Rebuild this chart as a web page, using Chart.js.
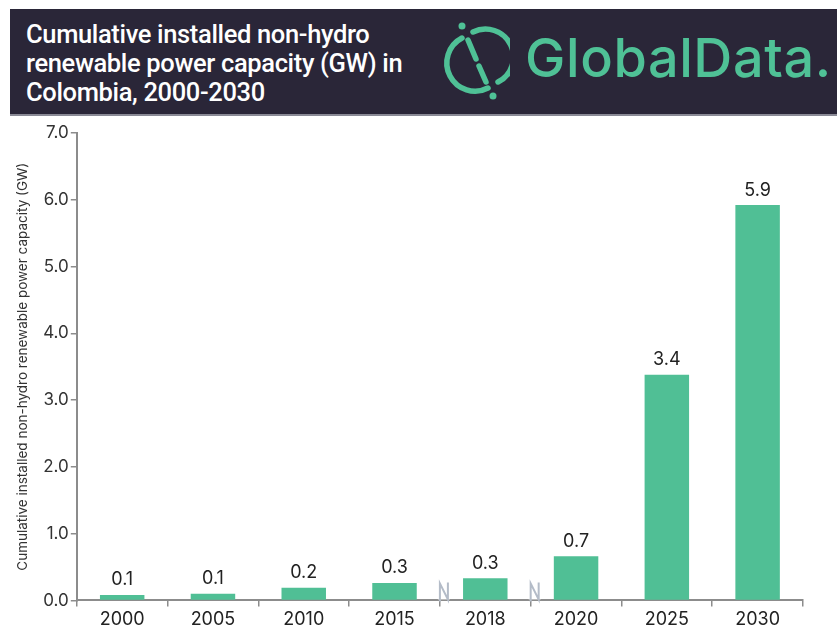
<!DOCTYPE html>
<html>
<head>
<meta charset="utf-8">
<script src="https://cdn.jsdelivr.net/npm/chart.js@4.4.0/dist/chart.umd.min.js"></script>
<style>
  body { margin: 0; background: #fff; width: 837px; height: 626px; overflow: hidden; position: relative; font-family: Roboto, "Noto Sans", sans-serif; }
  #header { position: absolute; left: 10px; top: 9px; width: 827px; height: 107px; background: #2a2638; border-bottom: 2px solid #8a8a96; box-sizing: border-box; }
  #title { position: absolute; left: 16px; top: 11px; color: #fff; font-size: 25.5px; font-weight: 500; line-height: 29px; font-family: Roboto, sans-serif; letter-spacing: -0.35px; }
  #logo { position: absolute; left: 420px; top: 1px; }
  #brand { position: absolute; left: 515px; top: 16px; color: #4fc196; font-family: Inter, "Open Sans", sans-serif; font-size: 54px; font-weight: 500; letter-spacing: 0.6px; }
  #wrap { position: absolute; left: 0; top: 116px; width: 837px; height: 516px; }
</style>
</head>
<body>
<div id="header">
  <div id="title">Cumulative installed non-hydro<br>renewable power capacity (GW) in<br>Colombia, 2000-2030</div>
  <svg id="logo" width="80" height="100" viewBox="0 0 80 100">
    <g fill="none" stroke="#4fc196" stroke-width="5.5" stroke-linecap="round">
      <path d="M32 28 A27 27 0 0 0 58 78"/>
      <path d="M43 22 A27 27 0 0 1 68 72"/>
      <path d="M38 30 L46 49"/>
      <path d="M49 56 L56 72"/>
    </g>
    <circle cx="32" cy="16" r="3.5" fill="#4fc196"/>
    <circle cx="63" cy="86" r="3.5" fill="#4fc196"/>
  </svg>
  <div id="brand">GlobalData.</div>
</div>
<div id="wrap"><canvas id="chart"></canvas></div>
<script>
const years = ['2000', '2005', '2010', '2015', '2018', '2020', '2025', '2030'];
const capacity = [0.08, 0.1, 0.19, 0.26, 0.33, 0.66, 3.38, 5.92];
const yTicks = [0, 1, 2, 3, 4, 5, 6, 7];
// axis breaks sit after these category indexes
const breaksAfter = [3, 4];

const barColor = '#50bf95';
const axisColor = '#8c8c8c';
const fontFam = 'Inter, "Open Sans", sans-serif';

// value labels above bars
const valueLabels = {
  id: 'valueLabels',
  afterDatasetsDraw(chart) {
    const ctx = chart.ctx;
    const meta = chart.getDatasetMeta(0);
    ctx.save();
    ctx.font = '18px ' + fontFam;
    ctx.fillStyle = '#222';
    ctx.textAlign = 'center';
    ctx.textBaseline = 'bottom';
    meta.data.forEach((bar, i) => {
      ctx.fillText(capacity[i].toFixed(1), bar.x, bar.y - 6);
    });
    ctx.restore();
  }
};

// little zigzag break marks on the x axis
const axisBreaks = {
  id: 'axisBreaks',
  afterDraw(chart) {
    const ctx = chart.ctx;
    const x = chart.scales.x;
    const yBase = chart.scales.y.getPixelForValue(0);
    ctx.save();
    ctx.strokeStyle = '#b4bcc8';
    ctx.lineWidth = 2;
    breaksAfter.forEach(i => {
      const cx = (x.getPixelForValue(i) + x.getPixelForValue(i + 1)) / 2 + 4;
      ctx.fillStyle = '#fff';
      ctx.fillRect(cx - 6, yBase - 18, 12, 17);
      ctx.beginPath();
      ctx.moveTo(cx - 4, yBase + 1);
      ctx.lineTo(cx - 4, yBase - 17);
      ctx.lineTo(cx + 4, yBase - 1);
      ctx.lineTo(cx + 4, yBase - 18);
      ctx.stroke();
    });
    ctx.restore();
  }
};

new Chart(document.getElementById('chart'), {
  type: 'bar',
  data: {
    labels: years,
    datasets: [{
      data: capacity,
      backgroundColor: barColor,
      categoryPercentage: 1,
      barPercentage: 0.49
    }]
  },
  options: {
    responsive: true,
    maintainAspectRatio: false,
    animation: false,
    layout: { padding: { top: 17, right: 34, left: 15, bottom: 0 } },
    plugins: { legend: { display: false }, tooltip: { enabled: false } },
    scales: {
      x: {
        grid: { offset: true, drawOnChartArea: false, color: axisColor, tickLength: 6, lineWidth: 1.5 },
        border: { color: axisColor, width: 2 },
        ticks: { color: '#222', font: { size: 18, family: fontFam }, padding: 2 }
      },
      y: {
        min: 0,
        max: 7,
        afterBuildTicks(axis) { axis.ticks = yTicks.map(v => ({ value: v })); },
        grid: { drawOnChartArea: false, color: axisColor, tickLength: 6, lineWidth: 1.5 },
        border: { color: axisColor, width: 2 },
        ticks: {
          color: '#333',
          font: { size: 17, family: fontFam },
          padding: 2,
          callback: v => v.toFixed(1)
        },
        title: {
          display: true,
          text: 'Cumulative installed non-hydro renewable power capacity (GW)',
          color: '#333',
          font: { size: 13.5, family: fontFam },
          padding: { top: 0, bottom: 10 }
        }
      }
    }
  },
  plugins: [valueLabels, axisBreaks]
});
</script>
</body>
</html>
